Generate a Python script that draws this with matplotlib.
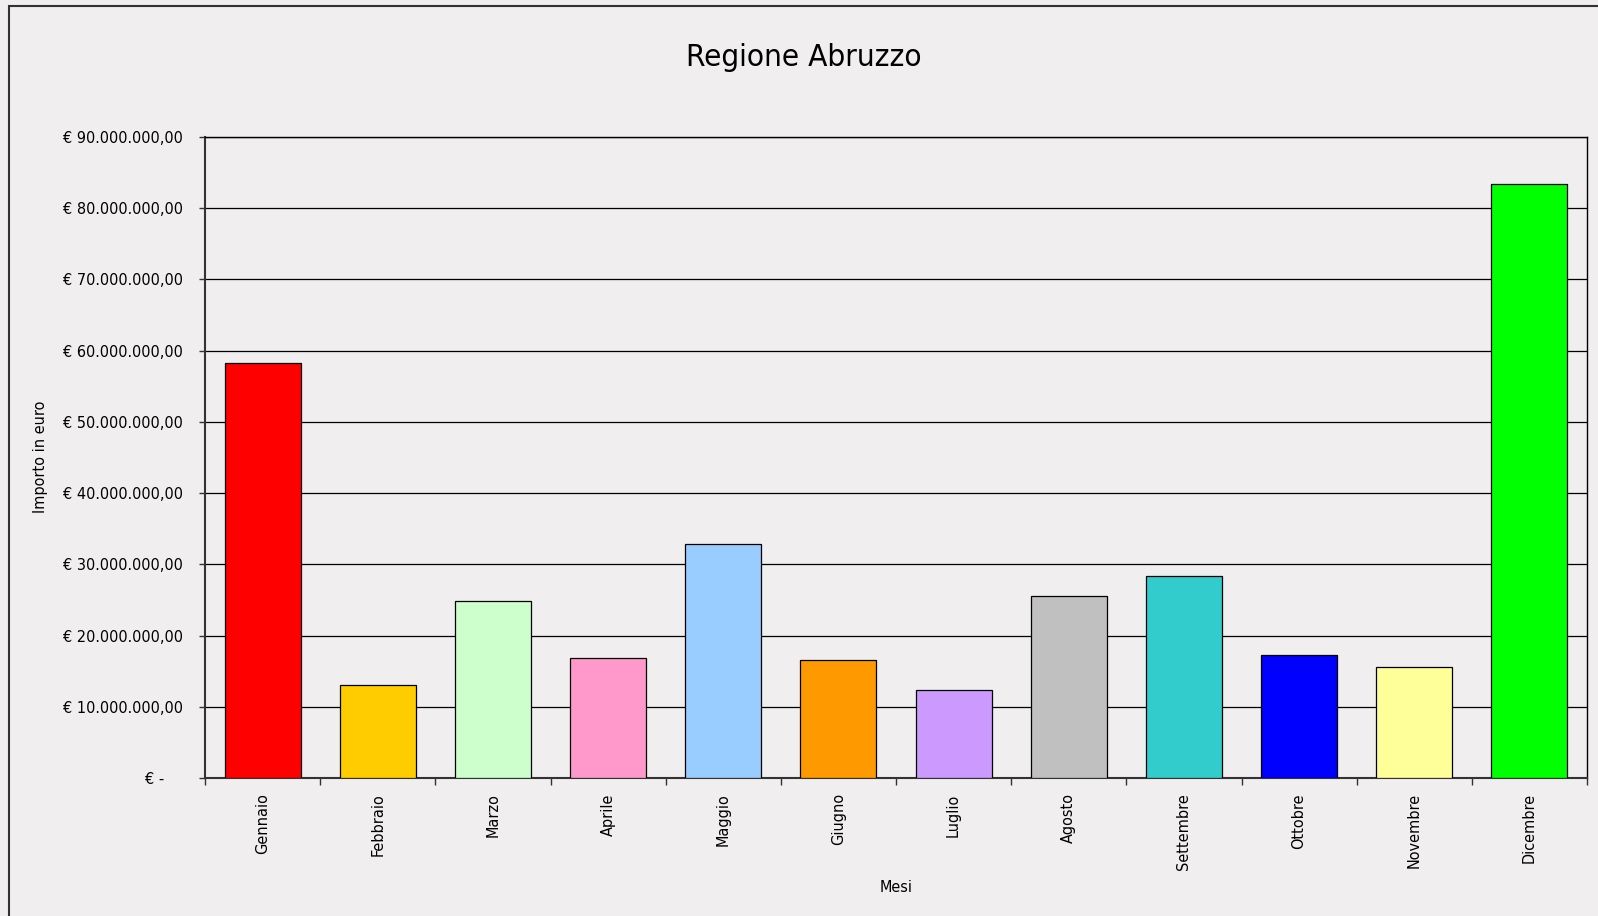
import matplotlib
matplotlib.use("Agg")
import matplotlib.pyplot as plt
from matplotlib import font_manager
from matplotlib.patches import Rectangle
from matplotlib.ticker import FixedLocator, FuncFormatter
import numpy as np

# dati (euro)
mesi = ['Gennaio', 'Febbraio', 'Marzo', 'Aprile', 'Maggio', 'Giugno',
        'Luglio', 'Agosto', 'Settembre', 'Ottobre', 'Novembre', 'Dicembre']
importi = [58.2e6, 13.1e6, 24.9e6, 16.8e6, 32.8e6, 16.6e6,
           12.4e6, 25.6e6, 28.4e6, 17.2e6, 15.6e6, 83.4e6]
colori = ['#FF0000', '#FFCC00', '#CCFFCC', '#FF99CC', '#99CCFF', '#FF9900',
          '#CC99FF', '#C0C0C0', '#33CCCC', '#0000FF', '#FFFF99', '#00FF00']

bg = '#F0EEEF'

# serve un font stretto tipo Arial Narrow: prendo quello che c'e'
fonts = font_manager.fontManager.ttflist
names = {f.name for f in fonts}
scale = 1.0
if 'Liberation Sans Narrow' in names:
    plt.rcParams['font.family'] = ['Liberation Sans Narrow', 'DejaVu Sans']
elif any(f.name == 'DejaVu Sans' and f.stretch == 'condensed' for f in fonts):
    plt.rcParams['font.family'] = ['DejaVu Sans']
    plt.rcParams['font.stretch'] = 'condensed'
    scale = 0.86
else:
    plt.rcParams['font.family'] = ['Liberation Sans', 'DejaVu Sans']
    scale = 0.84


def euro(v, pos=None):
    if v == 0:
        return '€ -    '
    s = f'{v:,.2f}'.replace(',', 'X').replace('.', ',').replace('X', '.')
    return f'€ {s}'


fig = plt.figure(figsize=(15.98, 9.16), dpi=100, facecolor=bg)
# bordo dell'area del grafico (tagliato a destra e in basso)
fig.patches.append(Rectangle((9 / 1598, -0.05), 1.1, 1 - 6 / 916 + 0.05,
                             transform=fig.transFigure, fill=False,
                             edgecolor='#333333', linewidth=1.5))

ax = fig.add_axes([205 / 1598, 1 - 778 / 916, (1587 - 205) / 1598, (778 - 137) / 916])
ax.set_facecolor(bg)

x = np.arange(len(mesi))
ax.bar(x, importi, width=0.66, color=colori, edgecolor='black', linewidth=0.9, zorder=3)

ax.set_xlim(-0.5, len(mesi) - 0.5)
ax.set_ylim(0, 90e6)
ax.set_yticks(np.arange(0, 90e6 + 1, 10e6))
ax.yaxis.set_major_formatter(FuncFormatter(euro))
ax.grid(axis='y', color='black', linewidth=0.9, zorder=1)

ax.set_xticks(x)
ax.set_xticklabels(mesi, rotation=90)
ax.xaxis.set_minor_locator(FixedLocator(np.arange(-0.5, len(mesi), 1.0)))
ax.tick_params(axis='x', which='major', length=0, pad=11, labelsize=13.5 * scale)
ax.tick_params(axis='x', which='minor', length=5, width=1, color='#333333')
ax.tick_params(axis='y', length=4.3, width=1, color='#333333', pad=11.5,
               labelsize=13.5 * scale)

for s in ax.spines.values():
    s.set_color('black')
    s.set_linewidth(1.0)
ax.spines['left'].set_color('#333333')
ax.spines['left'].set_linewidth(1.5)
ax.spines['bottom'].set_color('#333333')
ax.spines['bottom'].set_linewidth(1.5)

fig.text(896 / 1598, 1 - 888 / 916, 'Mesi', fontsize=13.5 * scale,
         ha='center', va='center')
fig.text(40 / 1598, 1 - 457 / 916, 'Importo in euro', fontsize=13.5 * scale,
         ha='center', va='center', rotation=90)
fig.text(804 / 1598, 1 - 57 / 916, 'Regione Abruzzo', fontsize=26.3 * scale,
         ha='center', va='center')

fig.savefig('out.png', dpi=100, facecolor=bg)
